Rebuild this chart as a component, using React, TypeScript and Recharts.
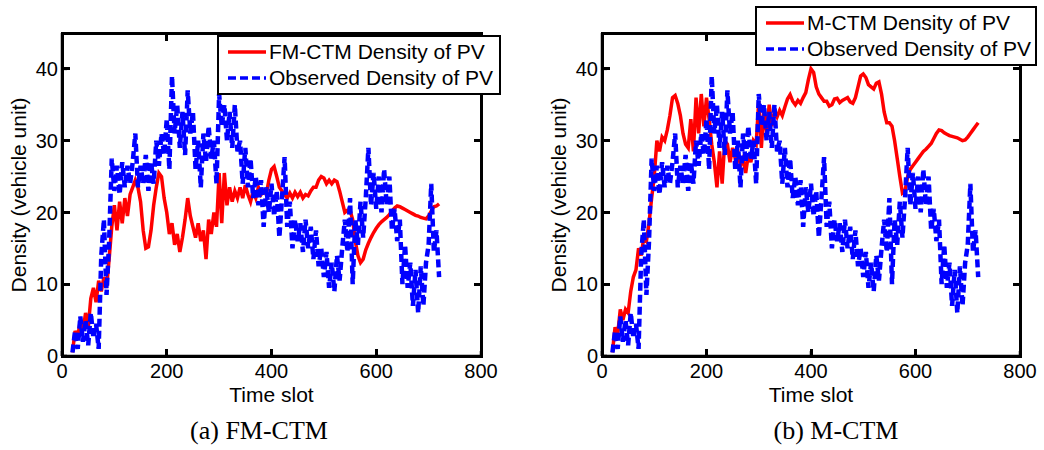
import { LineChart, Line, XAxis, YAxis } from "recharts";

// time slots start at 20, one sample every 5 slots
const START_SLOT = 20;
const SLOT_STEP = 5;

// observed density of PV (same in both panels)
const observed = [
  0.5, 3.5, 1, 5.5, 2, 5, 1.5, 6, 2.5, 4.5,
  1, 14, 19, 8.5, 16, 27.5, 23, 26.5, 22.5, 27,
  23.5, 26.5, 24, 27, 31, 23.5, 26.5, 24, 28, 23,
  27, 24, 30, 26.5, 31, 28, 33, 26, 39, 31,
  35, 29, 34, 28, 37, 31, 34, 26, 30, 23.5,
  31, 27, 32, 27.5, 30, 24, 36.5, 32, 35, 30,
  34, 29, 35, 28.5, 30, 24, 29, 23.5, 27.5, 22,
  25, 21, 24.5, 18, 23.5, 20, 24, 19.5, 23, 16.5,
  22, 27.7, 18, 21.5, 15, 19, 16, 18.5, 14.5, 19,
  15, 18, 13.5, 17.5, 12.5, 15, 11, 14.5, 9.5, 13,
  9, 14, 10.5, 15, 19, 14.5, 22, 10, 19, 15.5,
  21.5, 16.5, 22, 29, 21, 25.5, 20.5, 25, 20, 26,
  21, 25, 17.5, 20.5, 16, 19, 10, 15.5, 9.5, 13,
  7, 12, 6, 12.5, 7, 13, 15.5, 24, 14.5, 17.5,
  11,
];

// FM-CTM density of PV
const fmCtm = [
  0.5, 3.5, 2.5, 5, 3.5, 6, 4, 8, 9.5, 7.5,
  10.5, 9, 11, 9.5, 13.5, 18, 21, 17.5, 21.5, 18.5,
  22, 19.5, 22.5, 23.5, 24.5, 23.5, 21.5, 17.5, 15, 15.2,
  17.5, 21, 23.5, 25.5, 25, 22, 20, 17, 18.5, 15.5,
  17, 14.5, 16.5, 19, 22, 19.5, 18, 16.5, 18.5, 16,
  17.5, 13.5, 19, 17, 20, 18, 25.5, 18.5, 25.5, 21,
  23.5, 21.5, 23, 22, 23.5, 22, 23.8, 22.5, 21.5, 23,
  22, 23.5, 22.5, 23, 22.5, 24.5, 26, 26.4, 25, 23.5,
  23, 22.5, 22, 22.7, 22, 22.8, 22.2, 22.8, 22, 22.5,
  22.3, 23, 23.5, 23.5, 24.5, 25, 24.8, 24, 24.5, 24,
  24.5, 24.3, 23, 21.5, 20, 20.3, 20.3, 19, 16, 14,
  13, 13.5, 14.8, 15.7, 16.5, 17.2, 17.8, 18.3, 18.7, 19,
  19.3, 19.7, 20.2, 20.6, 20.9, 20.8, 20.6, 20.4, 20.2, 20,
  19.8, 19.6, 19.5, 19.3, 19.2, 19.1, 19.5, 20.2, 20.8, 20.9,
  21.2,
];

// M-CTM density of PV
const mCtm = [
  0.5, 4, 3, 6.5, 5, 6.5, 6, 9, 11, 12,
  15, 14, 16.5, 16, 18.5, 22, 25, 30, 28.5, 30.5,
  30, 31.5, 33.5, 36, 36.3, 35.2, 33.5, 31, 29.5, 29,
  33, 28.5, 36, 31, 36.5, 32, 36, 33, 29.5, 27,
  23.5, 28.5, 24, 30, 29.5, 27, 29, 27.5, 28.5, 26.5,
  27.5, 25.5, 28, 27, 30, 29.5, 35.5, 29, 34.5, 31,
  35, 32, 34, 33.3, 34.2, 33.5, 34.7, 35.8, 36.4, 35.5,
  35, 35.6, 35.2, 36, 36.7, 38.5, 40, 39.5, 37.5, 36.5,
  36, 35.5, 35.5, 34.8, 35, 35.8, 35.9, 35.3, 35.6, 35.8,
  36, 35.4, 35.2, 36, 37.5, 39, 39.3, 38.8, 37.8, 37.5,
  37.2, 38, 38.2, 36.5, 34, 32.5, 32.5, 32, 30, 27.5,
  25, 22.7, 23, 25, 26, 26.5, 27, 27.5, 28, 28.5,
  28.8, 29.2, 29.6, 30.3, 31, 31.5, 31.4, 31.1, 30.9, 30.7,
  30.6, 30.5, 30.4, 30.2, 30, 30.1, 30.5, 31, 31.5, 32,
  32.5,
];

const X_MAX = 800;
const Y_MAX = 45;
const xTicks = [0, 200, 400, 600, 800];
const yTicks = [0, 10, 20, 30, 40];

const RED = "#ff0000";
const BLUE = "#0000ff";
const SANS = '"Liberation Sans", Arial, sans-serif';
const SERIF = '"Liberation Serif", "Times New Roman", serif';

const H = 450;
const PLOT_TOP = 33;
const PLOT_BOTTOM = 356;
const FRAME_W = 3;
const TICK_LEN = 6;

function Legend({ left, top, width, modelName }: any) {
  const row = (color: string, dash: string | undefined, text: string) => (
    <div style={{ display: "flex", alignItems: "center", height: 26 }}>
      <svg width={40} height={26} style={{ marginRight: 2 }}>
        <line x1={1} y1={13} x2={39} y2={13} stroke={color} strokeWidth={3.5} strokeDasharray={dash} />
      </svg>
      <span style={{ whiteSpace: "nowrap" }}>{text}</span>
    </div>
  );
  return (
    <div
      style={{
        position: "absolute",
        left,
        top,
        width,
        boxSizing: "border-box",
        border: "2px solid #000",
        background: "#fff",
        padding: "2px 0 2px 8px",
        fontFamily: SANS,
        fontSize: 21,
        color: "#000",
      }}
    >
      {row(RED, undefined, `${modelName} Density of PV`)}
      {row(BLUE, "8 4", "Observed Density of PV")}
    </div>
  );
}

// MATLAB-style box with inward ticks on all four sides (html borders)
function Frame({ plotLeft, plotRight }: any) {
  const w = plotRight - plotLeft;
  const h = PLOT_BOTTOM - PLOT_TOP;
  const half = FRAME_W / 2;
  const mark = (key: string, l: number, t: number, mw: number, mh: number) => (
    <div key={key} style={{ position: "absolute", left: l, top: t, width: mw, height: mh, background: "#000" }} />
  );
  return (
    <div
      style={{
        position: "absolute",
        left: plotLeft - half,
        top: PLOT_TOP - half,
        width: w + FRAME_W,
        height: h + FRAME_W,
        boxSizing: "border-box",
        border: `${FRAME_W}px solid #000`,
        pointerEvents: "none",
      }}
    >
      {xTicks.map((t) => {
        const x = (t / X_MAX) * w - FRAME_W; // inside the border box
        return [
          mark(`xb${t}`, x, h - FRAME_W - TICK_LEN, FRAME_W, TICK_LEN),
          mark(`xt${t}`, x, 0, FRAME_W, TICK_LEN),
        ];
      })}
      {yTicks.map((t) => {
        const y = h - (t / Y_MAX) * h - FRAME_W;
        return [
          mark(`yl${t}`, 0, y, TICK_LEN, FRAME_W),
          mark(`yr${t}`, w - FRAME_W - TICK_LEN, y, TICK_LEN, FRAME_W),
        ];
      })}
    </div>
  );
}

function Panel({ left, width, plotLeft, plotRight, model, modelName, legend, caption, captionX }: any) {
  const data = observed.map((v, i) => ({
    t: START_SLOT + i * SLOT_STEP,
    obs: v,
    model: model[i],
  }));
  return (
    <div style={{ position: "absolute", left, top: 0, width, height: H }}>
      <LineChart
        width={width}
        height={H}
        data={data}
        margin={{
          top: PLOT_TOP,
          right: width - plotRight,
          left: plotLeft - 50,
          bottom: H - PLOT_BOTTOM - 40,
        }}
      >
        <XAxis
          dataKey="t"
          type="number"
          domain={[0, X_MAX]}
          ticks={xTicks}
          height={40}
          stroke="#000"
          axisLine={{ stroke: "#000", strokeWidth: 2.5 }}
          tickLine={{ stroke: "#000", strokeWidth: 2.5 }}
          tickSize={-5}
          tickMargin={13}
          tick={{ fontSize: 20, fill: "#000", fontFamily: SANS }}
        />
        <YAxis
          type="number"
          domain={[0, Y_MAX]}
          ticks={yTicks}
          width={50}
          stroke="#000"
          axisLine={{ stroke: "#000", strokeWidth: 2.5 }}
          tickLine={{ stroke: "#000", strokeWidth: 2.5 }}
          tickSize={-5}
          tickMargin={9}
          tick={{ fontSize: 20, fill: "#000", fontFamily: SANS }}
        />
        <Line
          dataKey="model"
          type="linear"
          stroke={RED}
          strokeWidth={3.5}
          dot={false}
          isAnimationActive={false}
        />
        <Line
          dataKey="obs"
          type="linear"
          stroke={BLUE}
          strokeWidth={4.5}
          strokeDasharray="8 4"
          dot={false}
          isAnimationActive={false}
        />
      </LineChart>
      <Frame plotLeft={plotLeft} plotRight={plotRight} />
      <div
        style={{
          position: "absolute",
          left: plotLeft - 43,
          top: (PLOT_TOP + PLOT_BOTTOM) / 2,
          transform: "translate(-50%, -50%) rotate(-90deg)",
          whiteSpace: "nowrap",
          fontFamily: SANS,
          fontSize: 21,
          lineHeight: "24px",
        }}
      >
        Density (vehicle unit)
      </div>
      <div
        style={{
          position: "absolute",
          left: (plotLeft + plotRight) / 2,
          top: 395,
          transform: "translate(-50%, -50%)",
          whiteSpace: "nowrap",
          fontFamily: SANS,
          fontSize: 21,
          lineHeight: "24px",
        }}
      >
        Time slot
      </div>
      <div
        style={{
          position: "absolute",
          left: captionX,
          top: 431,
          transform: "translate(-50%, -50%)",
          whiteSpace: "nowrap",
          fontFamily: SERIF,
          fontSize: 26,
          lineHeight: "30px",
        }}
      >
        {caption}
      </div>
      <Legend {...legend} modelName={modelName} />
    </div>
  );
}

export default function App() {
  return (
    <div style={{ position: "absolute", left: 0, top: 0, width: 1044, height: H, background: "#fff" }}>
      <Panel
        left={0}
        width={520}
        plotLeft={62}
        plotRight={481}
        model={fmCtm}
        modelName="FM-CTM"
        legend={{ left: 217, top: 35, width: 284 }}
        caption="(a) FM-CTM"
        captionX={259}
      />
      <Panel
        left={520}
        width={524}
        plotLeft={82}
        plotRight={500}
        model={mCtm}
        modelName="M-CTM"
        legend={{ left: 235, top: 6, width: 282 }}
        caption="(b) M-CTM"
        captionX={316}
      />
    </div>
  );
}
